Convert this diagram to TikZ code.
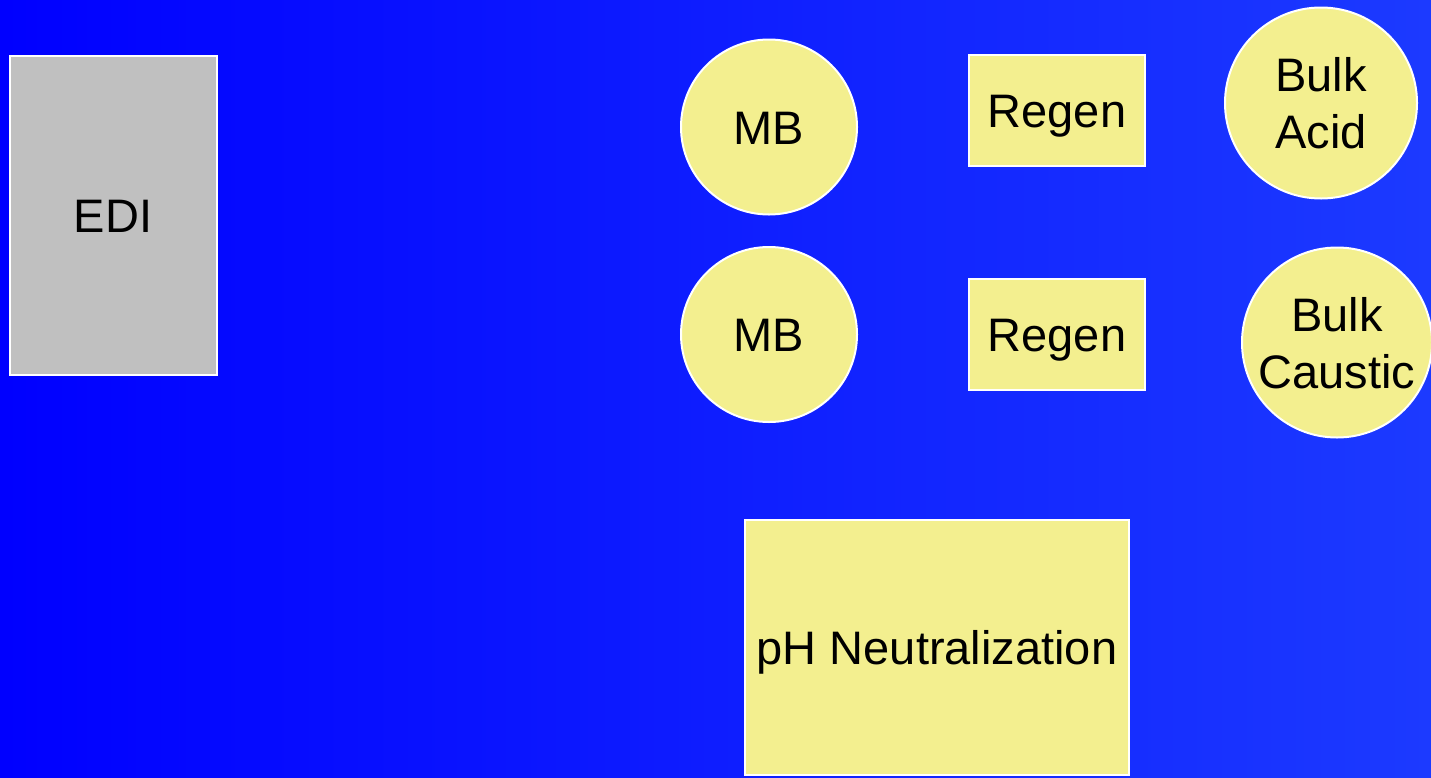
\documentclass[tikz,border=0pt]{standalone}
\usepackage{fontspec}
\setmainfont{Liberation Sans}
\usetikzlibrary{shapes.geometric}
\definecolor{bgleft}{RGB}{0,0,255}
\definecolor{bgright}{RGB}{28,58,255}
\definecolor{unitfill}{RGB}{243,239,143}
\definecolor{edifill}{RGB}{192,192,192}
\tikzset{
  unit/.style={draw=white, line width=2pt, inner sep=0pt, text=black,
    font=\fontsize{47}{57}\selectfont, text height=34pt, text depth=0pt, align=center},
  tank/.style={unit, ellipse, fill=unitfill},
  % two-line labels: negative inner sep keeps the ellipse at its minimum size
  tank2/.style={tank, text height=91pt, inner xsep=-60pt, inner ysep=-40pt},
  box/.style={unit, rectangle, fill=unitfill},
}
\begin{document}
\begin{tikzpicture}[x=1pt,y=-1pt]
  \useasboundingbox (0,0) rectangle (1431,777);
  \shade[left color=bgleft, right color=bgright] (0,0) rectangle (1431,777);

  % electrodeionization unit
  \node[unit, rectangle, fill=edifill, minimum width=207pt, minimum height=319pt] (edi) at (113,215) {EDI};

  % mixed-bed vessels
  \node[tank, minimum width=176pt, minimum height=175pt] (mb1) at (769,127) {MB};
  \node[tank, minimum width=176pt, minimum height=175pt] (mb2) at (769,334.5) {MB};

  % regeneration stations
  \node[box, minimum width=176pt, minimum height=111pt] (regen1) at (1057,110.5) {Regen};
  \node[box, minimum width=176pt, minimum height=111pt] (regen2) at (1057,334.5) {Regen};

  % bulk chemical storage
  \node[tank2, minimum width=192pt, minimum height=191pt] (acid) at (1321,103) {Bulk\\Acid};
  \node[tank2, minimum width=190pt, minimum height=190pt] (caustic) at (1337,342.5) {Bulk\\Caustic};

  % neutralization
  \node[box, minimum width=384pt, minimum height=255pt] (ph) at (937,647) {pH Neutralization};
\end{tikzpicture}
\end{document}
